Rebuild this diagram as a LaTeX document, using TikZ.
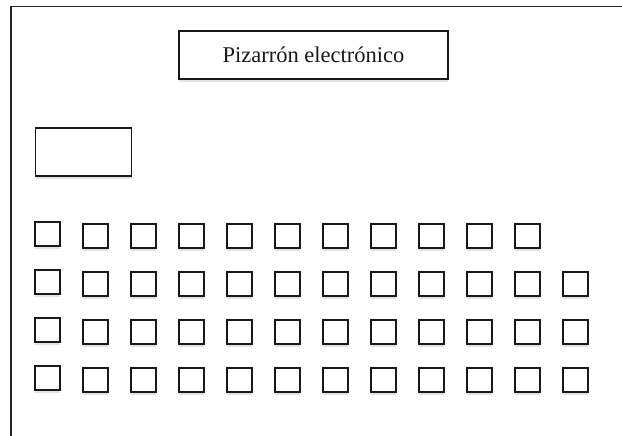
\documentclass[tikz,border=0pt]{standalone}
\usepackage{fontspec}
\setmainfont{Liberation Serif}
\usetikzlibrary{shadows}
\tikzset{
  x = 1pt,
  y = -1pt,
  wall/.style = {draw, line width=1.3pt, black!85},
  box/.style = {draw, line width=1.7pt, black!90, fill=white, inner sep=0pt,
    drop shadow={shadow xshift=0pt, shadow yshift=-3pt, opacity=0.22}},
  board/.style = {box, minimum width=269pt, minimum height=48pt, font=\fontsize{22.5}{26}\selectfont},
  desk/.style = {box, minimum width=96pt, minimum height=48pt},
  seat/.style = {box, minimum size=24.5pt},
}

\begin{document}
\begin{tikzpicture}
  \useasboundingbox (0,0) rectangle (622,436);
  % room walls
  \coordinate (wallbottom) at (11,436);
  \coordinate (corner) at (11,6.5);
  \coordinate (walltop) at (622,6.5);
  \draw[wall] (wallbottom) -- (corner) -- (walltop);

  \node[board] (pizarron) at (313.5,55) {Pizarrón electrónico};
  \node[desk] (escritorio) at (83.5,152) {};

  % seats
  \foreach \r in {0,...,3} {
    \foreach \c in {0,...,11} {
      \ifnum\r=0 \ifnum\c=11 \else
        \node[seat] (s-\r-\c) at ({47.5+48*\c},{236+48*\r-(\c==0?2:0)}) {};
      \fi \else
        \node[seat] (s-\r-\c) at ({47.5+48*\c},{236+48*\r-(\c==0?2:0)}) {};
      \fi
    }
  }
\end{tikzpicture}
\end{document}
